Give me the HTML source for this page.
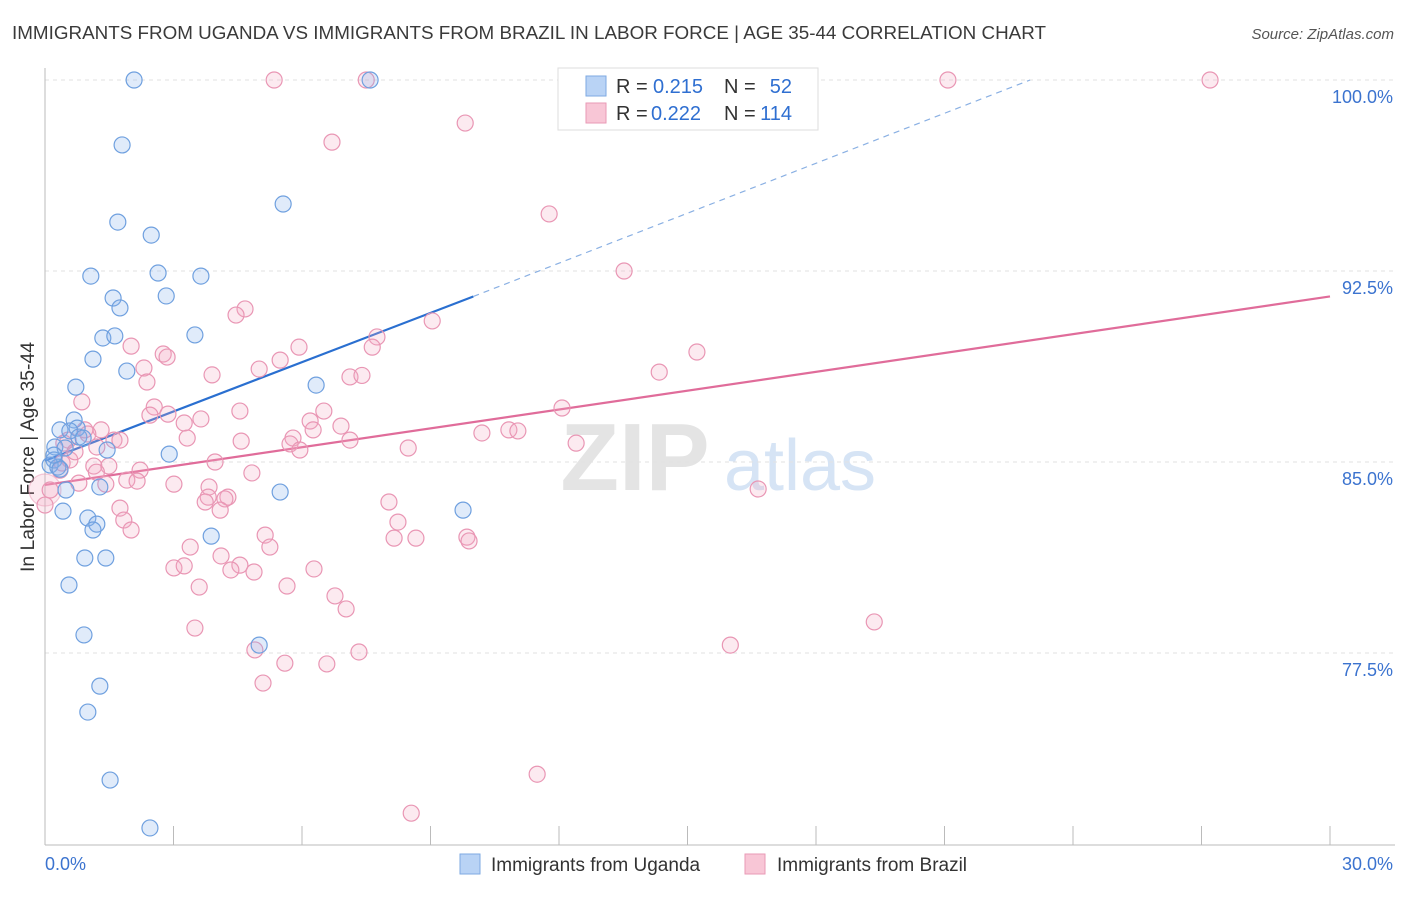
<!DOCTYPE html>
<html><head><meta charset="utf-8">
<style>
body{margin:0;background:#fff;font-family:"Liberation Sans",sans-serif;}
svg text{font-family:"Liberation Sans",sans-serif;}
</style></head>
<body>
<svg id="chart" width="1406" height="892" viewBox="0 0 1406 892">
<text x="12" y="39" font-size="18" fill="#3a3a3a" textLength="1034" lengthAdjust="spacingAndGlyphs">IMMIGRANTS FROM UGANDA VS IMMIGRANTS FROM BRAZIL IN LABOR FORCE | AGE 35-44 CORRELATION CHART</text>
<text x="1394" y="39" font-size="15" font-style="italic" fill="#555" text-anchor="end">Source: ZipAtlas.com</text>
<text transform="translate(34,457) rotate(-90)" font-size="19" fill="#333" text-anchor="middle" textLength="230" lengthAdjust="spacingAndGlyphs">In Labor Force | Age 35-44</text>
<g>
<text x="635" y="490" font-size="96" font-family="Liberation Serif" fill="#e4e4e4" text-anchor="middle" font-weight="bold">ZIP</text>
<text x="800" y="490" font-size="72" fill="#d6e4f5" text-anchor="middle">atlas</text>
</g>
<g id="grid"></g>
<g id="axes"></g>
<g id="trend"></g>
<g id="points"></g>
<g>
<rect x="558" y="68" width="260" height="62" fill="#fff" stroke="#ddd"/>
<rect x="586" y="76" width="20" height="20" fill="#b9d3f5" stroke="#7eaae2"/>
<text x="616" y="93" font-size="20" fill="#333">R =</text>
<text x="653" y="93" font-size="20" fill="#2f6fd1">0.215</text>
<text x="724" y="93" font-size="20" fill="#333">N =</text>
<text x="792" y="93" font-size="20" fill="#2f6fd1" text-anchor="end">52</text>
<rect x="586" y="103" width="20" height="20" fill="#f8c6d6" stroke="#e99ab6"/>
<text x="616" y="120" font-size="20" fill="#333">R =</text>
<text x="651" y="120" font-size="20" fill="#2f6fd1">0.222</text>
<text x="724" y="120" font-size="20" fill="#333">N =</text>
<text x="792" y="120" font-size="20" fill="#2f6fd1" text-anchor="end">114</text>
</g>
<g>
<rect x="460" y="854" width="20" height="20" fill="#b9d3f5" stroke="#7eaae2"/>
<text x="491" y="871" font-size="19" fill="#333">Immigrants from Uganda</text>
<rect x="745" y="854" width="20" height="20" fill="#f8c6d6" stroke="#e99ab6"/>
<text x="777" y="871" font-size="19" fill="#333">Immigrants from Brazil</text>
</g>
</svg>
<script>
const yTicks=[100,92.5,85,77.5];
const yTickLabels=["100.0%","92.5%","85.0%","77.5%"];
const xTickLabels=["0.0%","30.0%"];
const ugandaX=[2.08,1.80,1.70,2.48,1.07,2.64,3.64,1.59,2.83,1.75,1.35,1.63,3.50,1.12,1.91,0.72,6.33,5.56,0.68,0.75,0.35,0.58,0.79,0.89,0.23,0.47,0.21,1.45,2.90,0.12,0.30,0.35,0.49,1.28,5.49,0.42,1.00,1.21,1.12,3.88,9.76,0.93,1.42,0.56,0.91,5.00,1.28,1.00,1.52,2.45,7.59,0.21];
const ugandaY=[100,97.45,94.42,93.91,92.30,92.42,92.30,91.44,91.52,91.05,89.87,89.95,89.99,89.04,88.57,87.94,88.02,95.13,86.65,86.33,86.26,86.22,85.98,85.94,85.59,85.55,85.08,85.47,85.31,84.88,84.80,84.72,83.90,84.02,83.82,83.07,82.80,82.56,82.33,82.09,83.11,81.23,81.23,80.17,78.21,77.81,76.20,75.18,72.51,70.63,100,85.27];
const brazilX=[5.35,7.50,21.08,27.20,9.81,6.70,11.77,13.52,4.67,4.46,9.04,2.01,7.75,5.93,7.64,15.22,2.76,2.85,5.49,2.31,5.00,3.90,14.34,7.12,2.38,0.86,4.55,2.55,6.51,2.87,12.07,3.64,6.19,6.26,6.91,10.20,10.83,11.04,3.25,1.31,1.00,0.54,3.32,5.79,1.61,4.58,0.44,5.72,8.48,12.40,1.21,3.97,1.14,1.49,0.40,4.83,2.22,1.91,0.79,1.42,2.15,3.01,3.83,3.81,4.27,4.20,3.74,8.03,16.65,1.75,4.09,8.24,1.84,2.01,5.14,8.15,8.66,9.85,9.90,3.39,5.25,4.11,4.55,3.01,3.25,4.34,4.88,6.28,3.60,5.65,6.77,7.03,19.36,3.50,16.00,4.90,5.60,6.58,7.33,5.09,11.49,8.55,0.12,0.0,0.93,1.75,2.45,5.95,7.12,0.35,0.58,7.40,0.70,1.20];
const brazilY=[100,100,100,100,98.31,97.56,94.74,92.50,91.01,90.77,90.54,89.55,89.91,89.51,89.51,89.32,89.24,89.12,89.00,88.69,88.65,88.42,88.53,88.34,88.14,87.36,87.00,87.16,87.00,86.88,87.12,86.69,86.61,86.26,86.41,86.14,86.26,86.22,86.53,86.26,86.10,85.86,85.94,85.94,85.86,85.82,85.74,85.71,85.55,85.74,85.59,85.00,84.84,84.84,84.96,84.57,84.68,84.29,84.17,84.13,84.25,84.13,84.02,83.62,83.62,83.55,83.43,83.43,83.94,83.19,83.11,82.64,82.72,82.33,82.13,82.01,82.01,82.05,81.90,81.66,81.66,81.31,80.95,80.84,80.92,80.76,80.68,80.80,80.09,80.13,79.74,79.23,78.72,78.48,77.81,77.62,77.10,77.07,77.54,76.32,72.74,71.21,83.90,83.31,86.26,85.86,86.84,85.47,85.86,84.68,85.08,88.40,85.40,84.60];
const bigBrazilX=[0.0];
const bigBrazilY=[83.9];
const ugandaTrend=[[0,85.05],[10,91.5],[23,100]];
const brazilTrend=[[0,84.1],[30,91.5]];
const NS="http://www.w3.org/2000/svg";
const X0=45,X1=1330,Y0=80,Y1=845;
function sx(v){return X0+(v/30)*(X1-X0);}
function sy(v){return Y0+(100-v)/7.5*191;}
function mk(tag,attrs,parent){const e=document.createElementNS(NS,tag);for(const k in attrs)e.setAttribute(k,attrs[k]);parent.appendChild(e);return e;}
const grid=document.getElementById('grid'),axes=document.getElementById('axes'),trend=document.getElementById('trend'),pts=document.getElementById('points');
yTicks.forEach((t,i)=>{
  const l=mk('line',{x1:X0,x2:1395,y1:sy(t),y2:sy(t),stroke:'#e2e2e2','stroke-dasharray':'4,4'},grid);
  
  
  const tx=mk('text',{x:1393,y:sy(t)+23,'font-size':18,fill:'#3b73cf','text-anchor':'end'},axes);
  tx.textContent=yTickLabels[i];
  
  
});
const xa=mk('line',{x1:X0,x2:1395,y1:Y1,y2:Y1,stroke:'#bbb'},axes);


const ya=mk('line',{x1:X0,x2:X0,y1:68,y2:Y1,stroke:'#bbb'},axes);


for(let i=0;i<=10;i++){
  const t=mk('line',{x1:sx(i*3),x2:sx(i*3),y1:826,y2:Y1,stroke:'#bbb'},axes);
  
  
}
[[0,'start',45],[30,'end',1393]].forEach((d,i)=>{
  const tx=mk('text',{x:d[2],y:870,'font-size':18,fill:'#3b73cf','text-anchor':d[1]},axes);
  tx.textContent=xTickLabels[i];
  
  
});
function drawPts(xs,ys,fill,stroke,name,r){
  xs.forEach((x,i)=>{
    const c=mk('circle',{cx:sx(x),cy:sy(ys[i]),r:r,fill:fill,stroke:stroke,'stroke-width':1.2},pts);
    
    
  });
}
drawPts(bigBrazilX,bigBrazilY,'rgba(244,170,195,0.25)','rgba(233,150,180,0.5)','brazil-point-large',16);
drawPts(brazilX,brazilY,'rgba(244,170,195,0.25)','#e996b4','brazil-point',8);
drawPts(ugandaX,ugandaY,'rgba(130,175,235,0.25)','#6fa0df','uganda-point',8);
const bl=mk('line',{x1:sx(brazilTrend[0][0]),y1:sy(brazilTrend[0][1]),x2:sx(brazilTrend[1][0]),y2:sy(brazilTrend[1][1]),stroke:'#e06c9a','stroke-width':2.2},trend);


const ul=mk('line',{x1:sx(ugandaTrend[0][0]),y1:sy(ugandaTrend[0][1]),x2:sx(ugandaTrend[1][0]),y2:sy(ugandaTrend[1][1]),stroke:'#2a6fd0','stroke-width':2.2},trend);


const ud=mk('line',{x1:sx(ugandaTrend[1][0]),y1:sy(ugandaTrend[1][1]),x2:sx(ugandaTrend[2][0]),y2:sy(ugandaTrend[2][1]),stroke:'#8ab0e3','stroke-width':1.2,'stroke-dasharray':'6,5'},trend);


</script>
</body></html>
